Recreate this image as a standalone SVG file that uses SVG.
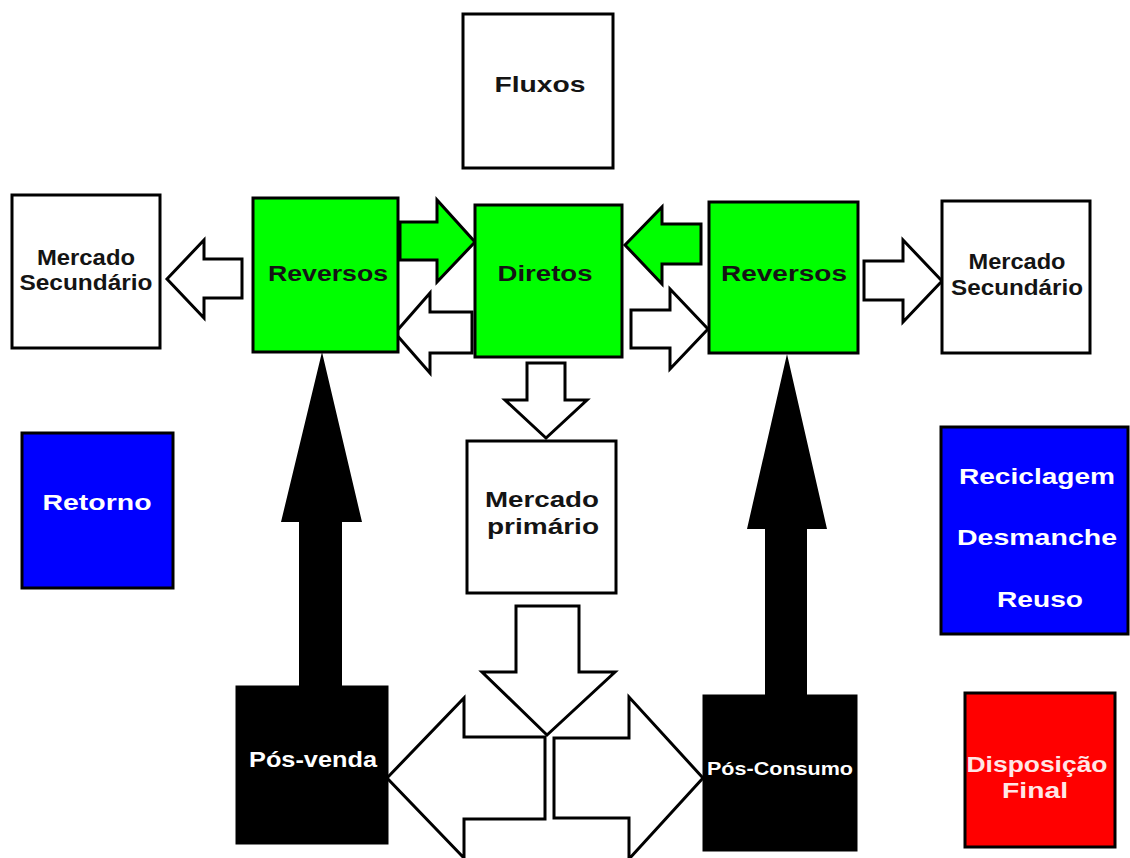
<svg xmlns="http://www.w3.org/2000/svg" width="1130" height="858" viewBox="0 0 1130 858">
<style>
.box{stroke:#000;stroke-width:3}
.w{fill:#fff}
.g{fill:#00ff00}
.b{fill:#0000ff}
.r{fill:#ff0000}
.k{fill:#000}
.arr{stroke:#000;stroke-width:3;stroke-linejoin:miter}
.blk{fill:#000}
text{font-family:"Liberation Sans",Arial,sans-serif;font-weight:bold;font-size:22px;text-anchor:middle}
.sm{font-size:18px}
.dk{fill:#141414}
.wt{fill:#ffffff}
.pk{fill:#ffe6e6}
</style>
<rect width="1130" height="858" fill="#fff"/>
<g id="connectors">
<polygon class="arr w" points="167,279 204,240 204,259 242,259 242,298 204,298 204,318"/>
<polygon class="arr g" points="400,222 437,222 437,200 475,242 437,282 437,260 400,260"/>
<polygon class="arr w" points="395,333 430,293 430,312 472,312 472,353 430,353 430,373"/>
<polygon class="arr g" points="625,245 662,207 662,224 701,224 701,264 662,264 662,284"/>
<polygon class="arr w" points="631,310 670,310 670,289 708,329 670,369 670,348 631,348"/>
<polygon class="arr w" points="864,261 903,261 903,240 942,281 903,322 903,300 864,300"/>
<polygon class="arr w" points="527,363 565,363 565,400 587,400 546,438 505,400 527,400"/>
<polygon class="arr w" points="516,606 579,606 579,672 615,672 547,735 482,672 516,672"/>
<polygon class="arr w" points="387,778 464,698 464,737 545,737 545,819 464,819 464,858"/>
<polygon class="arr w" points="703,778 629,697 629,738 554,738 554,818 629,818 629,859"/>
<polygon class="blk" points="322,352 362,522 342,522 342,686 299,686 299,522 281,522"/>
<polygon class="blk" points="787,354 827,529 807,529 807,696 765,696 765,529 747,529"/>
</g>
<g id="fluxos">
<rect class="box w" x="463" y="14" width="150" height="154"/>
<text class="dk" x="540" y="92" textLength="91" lengthAdjust="spacingAndGlyphs">Fluxos</text>
</g>
<g id="mercado-secundario-esq">
<rect class="box w" x="12" y="195" width="148" height="153"/>
<text class="dk" x="86" y="265" textLength="98" lengthAdjust="spacingAndGlyphs">Mercado</text>
<text class="dk" x="86" y="290" textLength="133" lengthAdjust="spacingAndGlyphs">Secundário</text>
</g>
<g id="reversos-esq">
<rect class="box g" x="253" y="198" width="145" height="154"/>
<text class="dk" x="328" y="281" textLength="120" lengthAdjust="spacingAndGlyphs">Reversos</text>
</g>
<g id="diretos">
<rect class="box g" x="475" y="205" width="147" height="152"/>
<text class="dk" x="545" y="281" textLength="95" lengthAdjust="spacingAndGlyphs">Diretos</text>
</g>
<g id="reversos-dir">
<rect class="box g" x="709" y="202" width="149" height="151"/>
<text class="dk" x="784" y="281" textLength="126" lengthAdjust="spacingAndGlyphs">Reversos</text>
</g>
<g id="mercado-secundario-dir">
<rect class="box w" x="942" y="201" width="148" height="152"/>
<text class="dk" x="1017" y="269" textLength="97" lengthAdjust="spacingAndGlyphs">Mercado</text>
<text class="dk" x="1017" y="295" textLength="132" lengthAdjust="spacingAndGlyphs">Secundário</text>
</g>
<g id="mercado-primario">
<rect class="box w" x="467" y="441" width="149" height="152"/>
<text class="dk" x="542" y="507" textLength="114" lengthAdjust="spacingAndGlyphs">Mercado</text>
<text class="dk" x="543" y="534" textLength="112" lengthAdjust="spacingAndGlyphs">primário</text>
</g>
<g id="retorno">
<rect class="box b" x="22" y="433" width="151" height="155"/>
<text class="wt" x="97" y="510" textLength="109" lengthAdjust="spacingAndGlyphs">Retorno</text>
</g>
<g id="reciclagem">
<rect class="box b" x="941" y="427" width="187" height="207"/>
<text class="wt" x="1037" y="484" textLength="156" lengthAdjust="spacingAndGlyphs">Reciclagem</text>
<text class="wt" x="1037" y="545" textLength="160" lengthAdjust="spacingAndGlyphs">Desmanche</text>
<text class="wt" x="1040" y="607" textLength="86" lengthAdjust="spacingAndGlyphs">Reuso</text>
</g>
<g id="disposicao-final">
<rect class="box r" x="965" y="693" width="150" height="154"/>
<text class="pk" x="1037" y="772" textLength="141" lengthAdjust="spacingAndGlyphs">Disposição</text>
<text class="pk" x="1035" y="798" textLength="66" lengthAdjust="spacingAndGlyphs">Final</text>
</g>
<g id="pos-venda">
<rect class="box k" x="237" y="687" width="150" height="156"/>
<text class="wt" x="313" y="767" textLength="128" lengthAdjust="spacingAndGlyphs">Pós-venda</text>
</g>
<g id="pos-consumo">
<rect class="box k" x="704" y="696" width="152" height="154"/>
<text class="wt sm" x="780" y="775" textLength="146" lengthAdjust="spacingAndGlyphs">Pós-Consumo</text>
</g>
</svg>
